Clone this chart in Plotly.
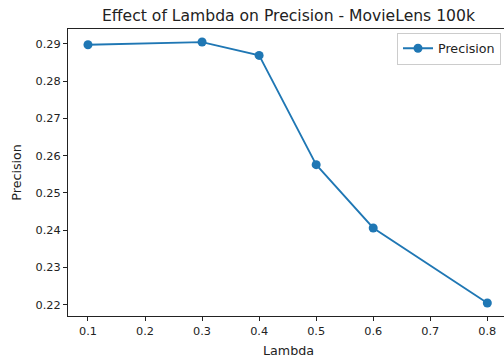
import plotly.graph_objects as go

lambdas = [0.1, 0.3, 0.4, 0.5, 0.6, 0.8]
precision = [0.28973, 0.29045, 0.28687, 0.25755, 0.24057, 0.22045]
y_ticks = [0.22, 0.23, 0.24, 0.25, 0.26, 0.27, 0.28, 0.29]
x_ticks = [0.1, 0.2, 0.3, 0.4, 0.5, 0.6, 0.7, 0.8]

W, H = 504, 360
L, R, T, B = 68, 0, 29, 44
FONT = "DejaVu Sans"
C = "#1f77b4"

xspan = max(lambdas) - min(lambdas)
x0 = min(lambdas) - 0.05 * xspan
px_per_x = 570.5
x1 = x0 + (W - L - R) / px_per_x

yspan = max(precision) - min(precision)
y0 = min(precision) - 0.05 * yspan
y1 = max(precision) + 0.05 * yspan

fig = go.Figure()
fig.add_trace(go.Scatter(
    x=lambdas, y=precision, mode="lines+markers", name="Precision",
    line=dict(color=C, width=1.8),
    marker=dict(color=C, size=9),
))

fig.update_layout(
    width=W, height=H,
    margin=dict(l=L, r=R, t=T, b=B, pad=0),
    paper_bgcolor="white", plot_bgcolor="white",
    font=dict(family=FONT, size=11.3, color="#222"),
    title=dict(text="Effect of Lambda on Precision - MovieLens 100k",
               x=288.5 / W, xref="container", xanchor="center",
               y=1 - 16 / H, yref="container", yanchor="middle",
               font=dict(family=FONT, size=15.6, color="#222")),
    showlegend=True,
    legend=dict(x=1 - 3 / (W - L), xanchor="right", y=1 - 3.5 / (H - T - B), yanchor="top",
                bgcolor="rgba(255,255,255,0.8)", bordercolor="#cccccc", borderwidth=1,
                font=dict(family=FONT, size=12.7, color="#222"),
                itemwidth=30),
    xaxis=dict(range=[x0, x1], tickvals=x_ticks, ticktext=[f"{v:.1f}" for v in x_ticks],
               showgrid=False, zeroline=False,
               showline=True, linecolor="#222", linewidth=1, mirror=True,
               ticks="outside", ticklen=4, tickwidth=1, tickcolor="#222"),
    yaxis=dict(range=[y0, y1], tickvals=y_ticks, ticktext=[f"{v:.2f}" for v in y_ticks],
               showgrid=False, zeroline=False,
               showline=True, linecolor="#222", linewidth=1, mirror=False,
               ticks="outside", ticklen=4, tickwidth=1, tickcolor="#222"),
    annotations=[
        dict(text="Lambda", x=288.7 / W, y=1 - 350.5 / H, xref="paper", yref="paper",
             showarrow=False, xanchor="center", yanchor="middle",
             font=dict(family=FONT, size=12.7, color="#222")),
        dict(text="Precision", x=17 / W, y=1 - 172.7 / H, xref="paper", yref="paper",
             showarrow=False, xanchor="center", yanchor="middle", textangle=-90,
             font=dict(family=FONT, size=12.7, color="#222")),
    ],
)
# convert annotation positions from container coords to paper coords
for a in fig.layout.annotations:
    px = a.x * W
    py = (1 - a.y) * H
    a.x = (px - L) / (W - L - R)
    a.y = 1 - (py - T) / (H - T - B)

fig.write_html("out.html")
